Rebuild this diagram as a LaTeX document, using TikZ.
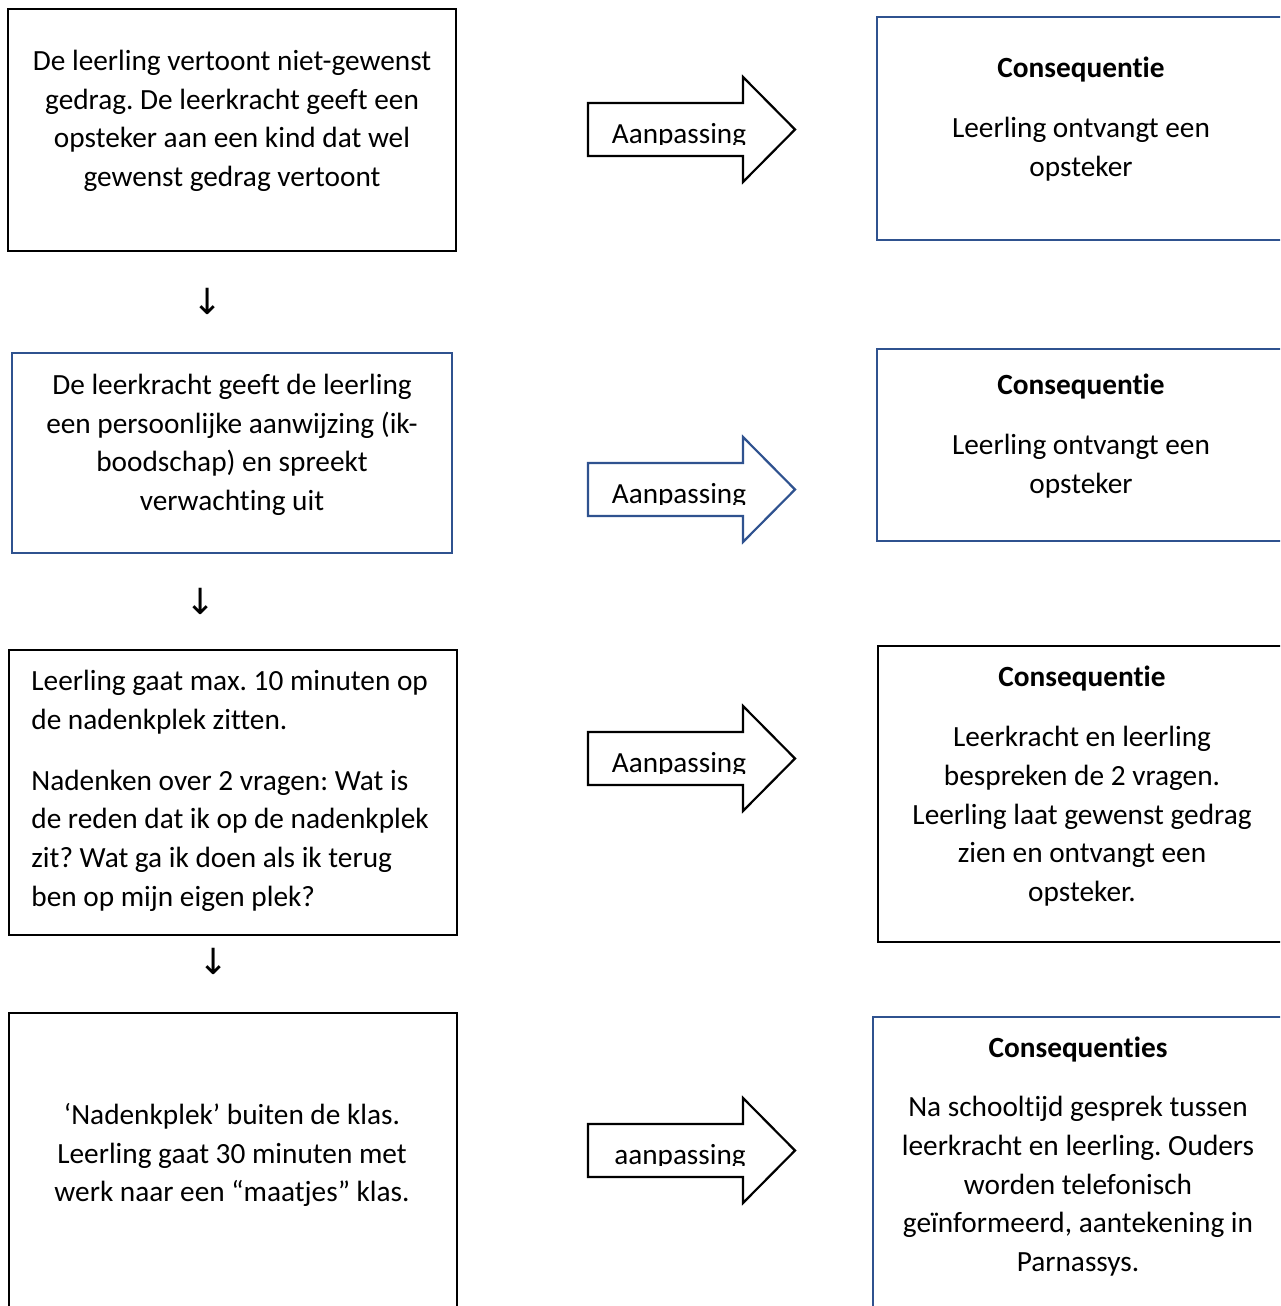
\documentclass[tikz,border=0pt]{standalone}
\usepackage{fontspec}
\setmainfont{Carlito}[Ligatures=NoCommon]
\newfontfamily\pijlfont{DejaVu Sans}
\frenchspacing
\definecolor{kaderblauw}{RGB}{47,82,143}
\tikzset{
  vak/.style={line width=1.3pt},
  pijl/.style={line width=1.1pt, fill=white},
  tekst/.style={inner sep=0pt, align=center, anchor=north,
    font=\fontsize{14.65}{19.3}\selectfont, execute at begin node=\strut},
  pijltekst/.style={inner sep=0pt, anchor=base, font=\fontsize{14.6}{17}\selectfont},
  omlaag/.style={inner sep=0pt, font=\pijlfont\fontsize{18}{20}\selectfont}
}
\begin{document}
\begin{tikzpicture}[x=0.5pt, y=-0.5pt]
\clip (0,0) rectangle (1280,1306);

% linker kolom
\draw [vak] (8,9) rectangle (456,251);
\node [tekst] (stap1) at (232,50) {De leerling vertoont niet-gewenst\\gedrag. De leerkracht geeft een\\opsteker aan een kind dat wel\\gewenst gedrag vertoont};
\node [omlaag] (neer1) at (208,301) {↓};

\draw [vak, kaderblauw] (12,353) rectangle (452,553);
\node [tekst] (stap2) at (232,374) {De leerkracht geeft de leerling\\een persoonlijke aanwijzing (ik-\\boodschap) en spreekt\\verwachting uit};
\node [omlaag] (neer2) at (201,601) {↓};

\draw [vak] (9,650) rectangle (457,935);
\node [tekst, align=left, anchor=north west] (stap3) at (31,670) {Leerling gaat max. 10 minuten op\\de nadenkplek zitten.\\[11.2pt]Nadenken over 2 vragen: Wat is\\de reden dat ik op de nadenkplek\\zit? Wat ga ik doen als ik terug\\ben op mijn eigen plek?};
\node [omlaag] (neer3) at (214,961) {↓};

\draw [vak] (9,1013) rectangle (457,1330);
\node [tekst] (stap4) at (232,1103) {‘Nadenkplek’ buiten de klas.\\Leerling gaat 30 minuten met\\werk naar een “maatjes” klas.};

% pijlen
\draw [pijl] (588,103) -- (743,103) -- (743,77) -- (795,129.5) -- (743,182) -- (743,156) -- (588,156) -- cycle;
\begin{scope}
\clip (588,103) rectangle (748,144.5);
\node [pijltekst] (aanp1) at (679,143) {Aanpassing};
\end{scope}

\draw [pijl, draw=kaderblauw] (588,463) -- (743,463) -- (743,437) -- (795,489.5) -- (743,542) -- (743,516) -- (588,516) -- cycle;
\begin{scope}
\clip (588,463) rectangle (748,504.5);
\node [pijltekst] (aanp2) at (679,503) {Aanpassing};
\end{scope}

\draw [pijl] (588,732) -- (743,732) -- (743,706) -- (795,758.5) -- (743,811) -- (743,785) -- (588,785) -- cycle;
\begin{scope}
\clip (588,732) rectangle (748,773.5);
\node [pijltekst] (aanp3) at (679,772) {Aanpassing};
\end{scope}

\draw [pijl] (588,1124) -- (743,1124) -- (743,1098) -- (795,1150.5) -- (743,1203) -- (743,1177) -- (588,1177) -- cycle;
\begin{scope}
\clip (588,1124) rectangle (748,1165.5);
\node [pijltekst] (aanp4) at (680,1164) {aanpassing};
\end{scope}

% rechter kolom
\draw [vak, kaderblauw] (877,17) rectangle (1300,240);
\node [tekst] (gevolg1) at (1081,57) {\bfseries Consequentie\\[10.7pt]Leerling ontvangt een\\opsteker};

\draw [vak, kaderblauw] (877,349) rectangle (1300,541);
\node [tekst] (gevolg2) at (1081,374) {\bfseries Consequentie\\[10.7pt]Leerling ontvangt een\\opsteker};

\draw [vak] (878,646) rectangle (1300,942);
\node [tekst] (gevolg3) at (1082,666) {\bfseries Consequentie\\[10.7pt]Leerkracht en leerling\\bespreken de 2 vragen.\\Leerling laat gewenst gedrag\\zien en ontvangt een\\opsteker.};

\draw [vak, kaderblauw] (873,1017) rectangle (1300,1330);
\node [tekst] (gevolg4) at (1078,1037) {\bfseries Consequenties\\[10.2pt]Na schooltijd gesprek tussen\\leerkracht en leerling. Ouders\\worden telefonisch\\geïnformeerd, aantekening in\\Parnassys.};
\end{tikzpicture}
\end{document}
